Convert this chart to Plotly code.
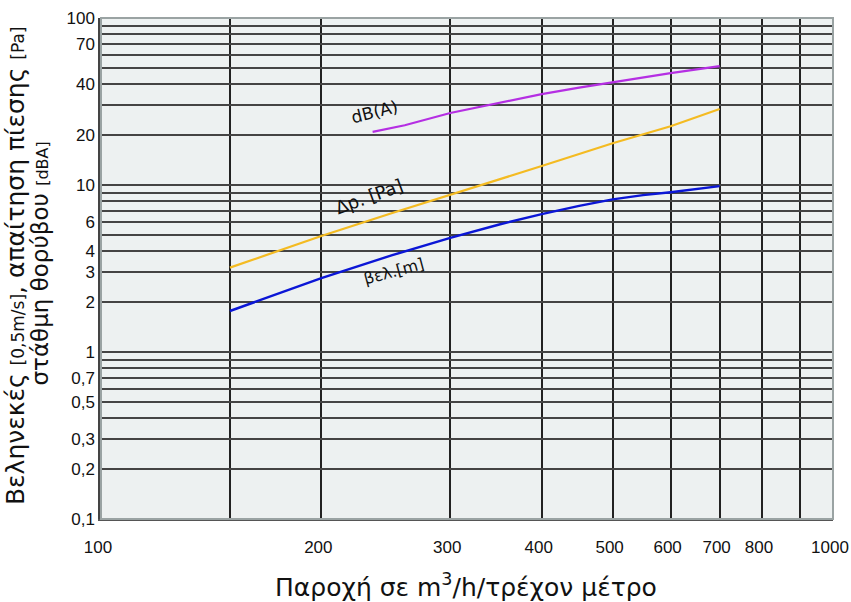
import plotly.graph_objects as go

# data
db_x = [235, 260, 300, 350, 400, 450, 500, 600, 700]
db_y = [20.8, 22.8, 27.0, 31.0, 35.0, 38.3, 41.3, 46.8, 51.5]

dp_x = [150, 200, 250, 300, 350, 400, 450, 500, 600, 700]
dp_y = [3.2, 4.95, 6.8, 8.7, 10.8, 13.0, 15.3, 17.8, 22.5, 28.5]

vel_x = [150, 200, 250, 300, 350, 400, 450, 500, 550, 600, 700]
vel_y = [1.76, 2.77, 3.8, 4.83, 5.8, 6.7, 7.5, 8.2, 8.7, 9.05, 9.85]

x_tickvals = [100, 150, 200, 300, 400, 500, 600, 700, 800, 900, 1000]
x_ticktext = ["100", "", "200", "300", "400", "500", "600", "700", "800", "", "1000"]

y_tickvals = [0.1, 0.2, 0.3, 0.4, 0.5, 0.6, 0.7, 0.8, 0.9,
              1, 2, 3, 4, 5, 6, 7, 8, 9,
              10, 20, 30, 40, 50, 60, 70, 80, 90, 100]
y_ticktext = ["0,1", "0,2", "0,3", "", "0,5", "", "0,7", "", "",
              "1", "2", "3", "4", "", "6", "", "", "",
              "10", "20", "", "40", "", "", "70", "", "", "100"]

fig = go.Figure()
fig.add_trace(go.Scatter(x=db_x, y=db_y, mode="lines",
                         line=dict(color="#b52fe3", width=2.2), showlegend=False))
fig.add_trace(go.Scatter(x=dp_x, y=dp_y, mode="lines",
                         line=dict(color="#f4bb22", width=2.2), showlegend=False))
fig.add_trace(go.Scatter(x=vel_x, y=vel_y, mode="lines",
                         line=dict(color="#0b16d6", width=2.4), showlegend=False))

tickfont = dict(family="Liberation Sans Narrow, Liberation Sans, Arial", size=17, color="#111")
lblfont = dict(family="DejaVu Sans", color="#111")

fig.update_layout(
    width=851, height=602,
    margin=dict(l=101, r=18, t=18, b=83, autoexpand=False),
    paper_bgcolor="white",
    plot_bgcolor="#edf1f1",
    xaxis=dict(type="log", range=[2, 3], tickvals=x_tickvals, ticktext=x_ticktext,
               showgrid=True, gridcolor="#222", gridwidth=1.8,
               showline=True, linecolor="#555", linewidth=1.5, mirror=False,
               ticks="", tickfont=tickfont, zeroline=False, automargin=False,
               ticklabelstandoff=12, ticklabeloverflow="allow", ticklabelshift=-3),
    yaxis=dict(type="log", range=[-1, 2], tickvals=y_tickvals, ticktext=y_ticktext,
               showgrid=True, gridcolor="#444", gridwidth=1.6,
               showline=True, linecolor="#444", linewidth=2.5, automargin=False,
               ticks="", tickfont=tickfont, zeroline=False, ticklabeloverflow="allow"),
    shapes=[dict(type="rect", xref="paper", yref="paper", x0=0, y0=0, x1=1, y1=1,
                 line=dict(color="#9aa3a3", width=2), layer="above")],
    annotations=[
        dict(text="dB(A)", x=0.373, y=0.812, xref="paper", yref="paper", showarrow=False,
             xanchor="center", yanchor="middle",
             textangle=-14, font=dict(lblfont, size=17)),
        dict(text="Δp. [Pa]", x=0.366, y=0.643, xref="paper", yref="paper", showarrow=False,
             xanchor="center", yanchor="middle",
             textangle=-20, font=dict(lblfont, size=18)),
        dict(text="βελ.[m]", x=0.399, y=0.495, xref="paper", yref="paper", showarrow=False,
             xanchor="center", yanchor="middle",
             textangle=-15, font=dict(lblfont, size=16)),
        dict(text="Βεληνεκές <span style='font-size:17px'>[0,5m/s]</span>, απαίτηση πίεσης <span style='font-size:17px'>[Pa]</span>",
             x=-0.116, y=0.505, xref="paper", yref="paper", showarrow=False, textangle=-90,
             xanchor="center", yanchor="middle",
             font=dict(lblfont, size=25)),
        dict(text="στάθμη θορύβου <span style='font-size:16px'>[dBA]</span>",
             x=-0.082, y=0.51, xref="paper", yref="paper", showarrow=False, textangle=-90,
             xanchor="center", yanchor="middle",
             font=dict(lblfont, size=23)),
        dict(text="Παροχή σε m<sup>3</sup>/h/τρέχον μέτρο",
             x=0.499, y=-0.132, xref="paper", yref="paper", showarrow=False,
             xanchor="center", yanchor="middle",
             font=dict(lblfont, size=25)),
    ],
)

fig.write_html("out.html", config={"displayModeBar": False},
               post_script="document.body.style.margin='0';")
